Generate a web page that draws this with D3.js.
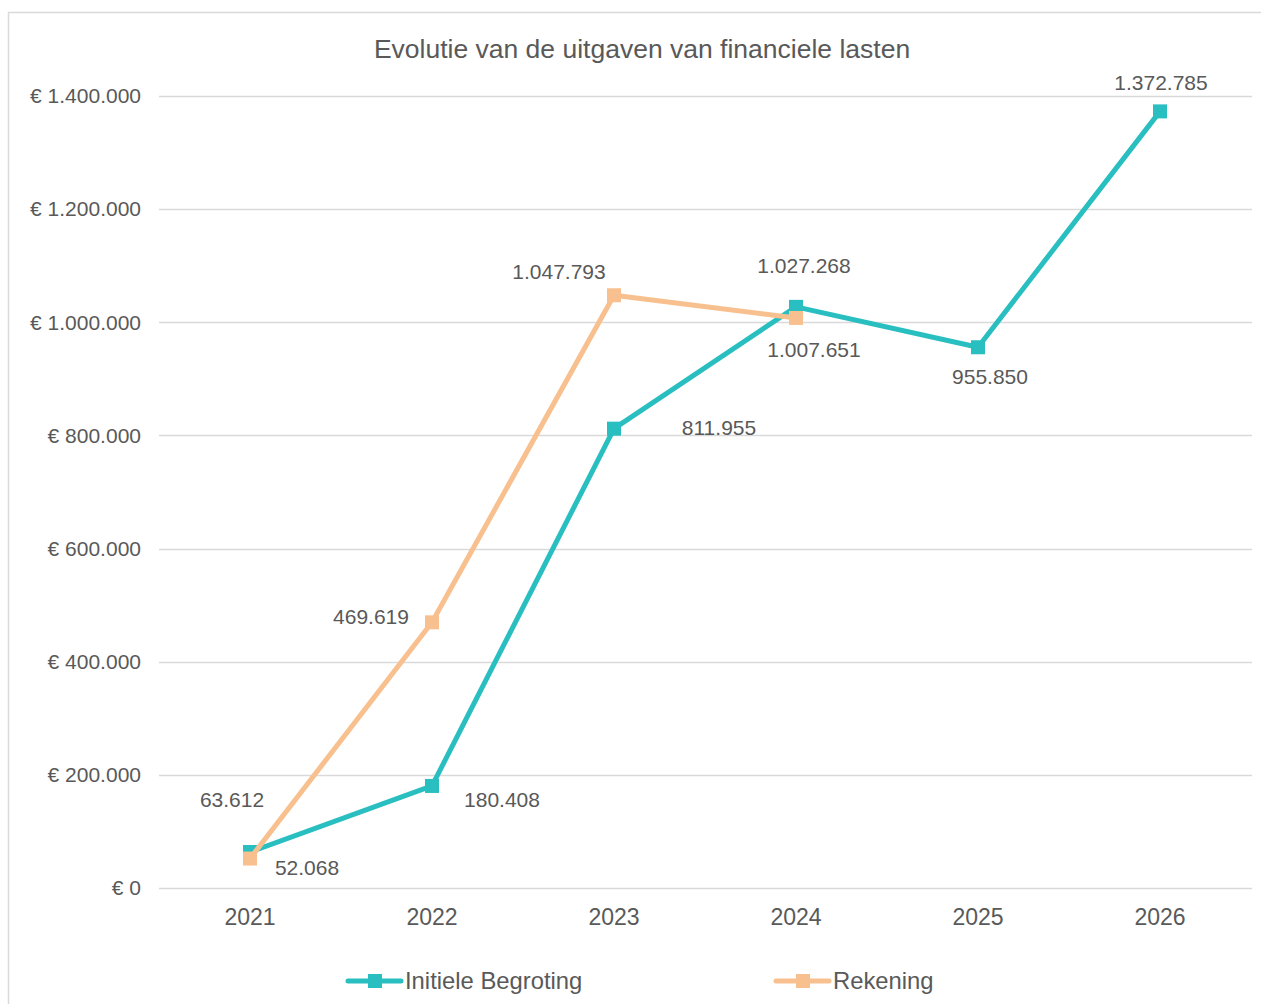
<!DOCTYPE html>
<html>
<head>
<meta charset="utf-8">
<script src="https://cdn.jsdelivr.net/npm/d3@7"></script>
<style>
  body { margin: 0; background: #fff; }
  text { font-family: "Liberation Sans", Arial, sans-serif; fill: #595959; }
</style>
</head>
<body>
<svg id="chart" width="1261" height="1004"></svg>
<script>
// chart data
const years = ["2021", "2022", "2023", "2024", "2025", "2026"];
const begroting = [63612, 180408, 811955, 1027268, 955850, 1372785];
const rekening = [52068, 469619, 1047793, 1007651];
const yTicks = [0, 200000, 400000, 600000, 800000, 1000000, 1200000, 1400000];

// label offsets (px) from each point, like Excel's manual label placement
const begrotingLabelOffsets = [[-18, -52], [70, 14], [105, -1], [8, -41], [12, 29], [1, -29]];
const rekeningLabelOffsets = [[57, 9], [-61, -6], [-55, -24], [18, 32]];

const teal = "#29bec0";
const orange = "#f9c08f";

const svg = d3.select("#chart");
const width = 1261, height = 1004;
const margin = { top: 96, right: 10, bottom: 116, left: 159 };

// outer chart border (cut off at right/bottom like the source)
svg.append("rect")
  .attr("x", 8.5).attr("y", 12.5)
  .attr("width", 1300).attr("height", 1100)
  .attr("fill", "none").attr("stroke", "#d9d9d9").attr("stroke-width", 1.5);

const x = d3.scaleBand().domain(years).range([margin.left, width - margin.right]);
const y = d3.scaleLinear().domain([0, 1400000]).range([height - margin.bottom, margin.top]);
const cx = (d) => x(d) + x.bandwidth() / 2;

const fmt = (v) => d3.format(",")(v).replace(/,/g, ".");

// gridlines
svg.append("g")
  .selectAll("line")
  .data(yTicks)
  .enter()
  .append("line")
  .attr("x1", margin.left).attr("x2", width - margin.right + 1)
  .attr("y1", (d) => Math.round(y(d)) + 0.5)
  .attr("y2", (d) => Math.round(y(d)) + 0.5)
  .attr("stroke", "#d9d9d9").attr("stroke-width", 1.5);

// y axis labels
svg.append("g")
  .selectAll("text")
  .data(yTicks)
  .enter()
  .append("text")
  .attr("x", 141)
  .attr("y", (d) => y(d))
  .attr("dy", "0.35em")
  .attr("text-anchor", "end")
  .style("font-size", "21px")
  .text((d) => "€ " + fmt(d));

// x axis labels
svg.append("g")
  .selectAll("text")
  .data(years)
  .enter()
  .append("text")
  .attr("x", cx)
  .attr("y", 917)
  .attr("dy", "0.35em")
  .attr("text-anchor", "middle")
  .style("font-size", "23px")
  .text((d) => d);

// title
svg.append("text")
  .attr("x", 642).attr("y", 49)
  .attr("dy", "0.35em")
  .attr("text-anchor", "middle")
  .style("font-size", "26.5px")
  .text("Evolutie van de uitgaven van financiele lasten");

function drawSeries(values, color, offsets) {
  const pts = values.map((v, i) => ({ year: years[i], value: v, off: offsets[i] }));
  const line = d3.line().x((d) => cx(d.year)).y((d) => y(d.value));
  const g = svg.append("g");
  g.append("path")
    .datum(pts)
    .attr("d", line)
    .attr("fill", "none")
    .attr("stroke", color)
    .attr("stroke-width", 5)
    .attr("stroke-linejoin", "round");
  g.selectAll("rect")
    .data(pts)
    .enter()
    .append("rect")
    .attr("x", (d) => cx(d.year) - 7)
    .attr("y", (d) => y(d.value) - 7)
    .attr("width", 14).attr("height", 14)
    .attr("fill", color);
  return pts;
}

const begPts = drawSeries(begroting, teal, begrotingLabelOffsets);
const rekPts = drawSeries(rekening, orange, rekeningLabelOffsets);

// data labels on top
svg.append("g")
  .selectAll("text")
  .data(begPts.concat(rekPts))
  .enter()
  .append("text")
  .attr("x", (d) => cx(d.year) + d.off[0])
  .attr("y", (d) => y(d.value) + d.off[1])
  .attr("dy", "0.35em")
  .attr("text-anchor", "middle")
  .style("font-size", "21px")
  .text((d) => fmt(d.value));

// legend
const legend = [
  { name: "Initiele Begroting", color: teal, x: 346 },
  { name: "Rekening", color: orange, x: 774 }
];
const lg = svg.append("g").selectAll("g").data(legend).enter().append("g");
lg.append("line")
  .attr("x1", (d) => d.x + 2).attr("x2", (d) => d.x + 55)
  .attr("y1", 981).attr("y2", 981)
  .attr("stroke", (d) => d.color).attr("stroke-width", 5)
  .attr("stroke-linecap", "round");
lg.append("rect")
  .attr("x", (d) => d.x + 22).attr("y", 974)
  .attr("width", 14).attr("height", 14)
  .attr("fill", (d) => d.color);
lg.append("text")
  .attr("x", (d) => d.x + 59)
  .attr("y", 981)
  .attr("dy", "0.35em")
  .style("font-size", "23.8px")
  .text((d) => d.name);
</script>
</body>
</html>
